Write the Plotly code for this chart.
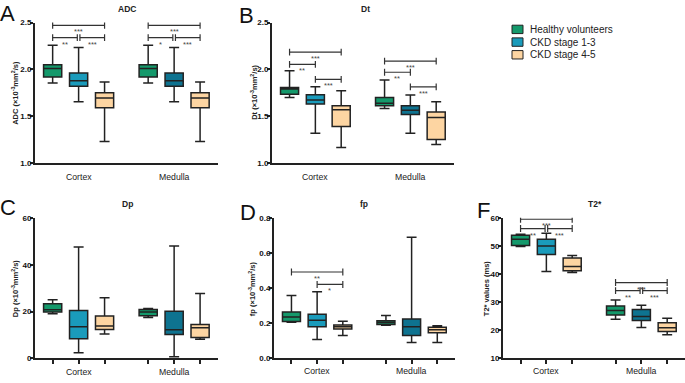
import plotly.graph_objects as go

# ---------------- data ----------------
GROUPS = ["Healthy volunteers", "CKD stage 1-3", "CKD stage 4-5"]
REGIONS = ["Cortex", "Medulla"]
# box order: Cortex HV, Cortex CKD1-3, Cortex CKD4-5, Medulla HV, Medulla CKD1-3, Medulla CKD4-5
ADC_LOW = [1.855, 1.655, 1.232, 1.855, 1.655, 1.232]
ADC_Q1 = [1.918, 1.820, 1.592, 1.918, 1.820, 1.592]
ADC_MED = [2.010, 1.880, 1.696, 2.010, 1.880, 1.696]
ADC_Q3 = [2.050, 1.963, 1.750, 2.050, 1.963, 1.750]
ADC_HIGH = [2.257, 2.233, 1.866, 2.257, 2.233, 1.866]

DT_LOW = [1.700, 1.319, 1.166, 1.582, 1.319, 1.200]
DT_Q1 = [1.734, 1.630, 1.391, 1.613, 1.520, 1.253]
DT_MED = [1.790, 1.675, 1.571, 1.640, 1.565, 1.488]
DT_Q3 = [1.807, 1.731, 1.613, 1.700, 1.613, 1.547]
DT_HIGH = [1.987, 1.814, 1.772, 1.887, 1.727, 1.655]

DP_LOW = [19.1, 2.4, 10.4, 17.5, 0.7, 8.2]
DP_Q1 = [19.8, 8.4, 12.4, 18.2, 10.2, 8.9]
DP_MED = [20.8, 13.5, 13.9, 19.8, 12.3, 13.1]
DP_Q3 = [23.3, 20.5, 18.1, 20.9, 20.1, 14.5]
DP_HIGH = [25.1, 47.6, 25.9, 21.3, 48.0, 27.7]

FP_LOW = [0.206, 0.108, 0.130, 0.189, 0.091, 0.091]
FP_Q1 = [0.210, 0.180, 0.167, 0.193, 0.130, 0.147]
FP_MED = [0.236, 0.217, 0.180, 0.204, 0.180, 0.163]
FP_Q3 = [0.264, 0.252, 0.191, 0.215, 0.225, 0.178]
FP_HIGH = [0.358, 0.379, 0.212, 0.245, 0.689, 0.186]

T2_LOW = [49.8, 40.9, 40.6, 23.9, 21.0, 18.4]
T2_Q1 = [50.2, 47.0, 41.2, 25.5, 23.5, 19.6]
T2_MED = [52.4, 50.0, 42.7, 27.1, 24.9, 20.9]
T2_Q3 = [53.8, 52.4, 45.7, 28.7, 27.4, 22.7]
T2_HIGH = [54.2, 54.5, 46.6, 30.8, 28.9, 24.3]

# significance brackets: (panel, from box, to box, y value, label)
BRACKETS = [
    ("A", 0, 2, 2.469, "***"), ("A", 0, 1, 2.34, "**"), ("A", 1, 2, 2.34, "***"),
    ("A", 3, 5, 2.469, "***"), ("A", 3, 4, 2.34, "*"), ("A", 4, 5, 2.34, "***"),
    ("B", 0, 2, 2.185, "***"), ("B", 0, 1, 2.053, "**"), ("B", 1, 2, 1.894, "***"),
    ("B", 3, 5, 2.088, "***"), ("B", 3, 4, 1.970, "**"), ("B", 4, 5, 1.814, "***"),
    ("D", 0, 2, 0.492, "**"), ("D", 1, 2, 0.421, "*"),
    ("F", 0, 2, 59.5, "***"), ("F", 0, 1, 56.2, "**"), ("F", 1, 2, 56.2, "***"),
    ("F", 3, 5, 37.0, "***"), ("F", 3, 4, 34.1, "**"), ("F", 4, 5, 34.1, "***"),
]

# ---------------- style / layout ----------------
W, H = 685, 383
POS = [0, 1, 2, 3.68, 4.68, 5.68]
XR = [-0.68, 6.37]
GREEN, BLUE, BLUE_DARK, PEACH = "#14996b", "#1a9bbb", "#0e7390", "#fdd5a2"
FILLS = [GREEN, BLUE, PEACH, GREEN, BLUE_DARK, PEACH]
LEGEND_FILLS = [GREEN, BLUE, PEACH]
INK = "#222222"
FONT = "Liberation Sans, Arial, sans-serif"


def px(x):
    return x / W


def py(y):
    return 1 - y / H


PANELS = [
    dict(key="A", title="ADC", ytitle="ADC (×10<sup>-3</sup>mm<sup>2</sup>/s)",
         stats=(ADC_LOW, ADC_Q1, ADC_MED, ADC_Q3, ADC_HIGH),
         box=(35, 218, 19, 163), yrange=[1.0, 2.5], tickvals=[1.0, 1.5, 2.0, 2.5], fmt=".1f",
         xticks=False, letter=(7.5, 10), title_xy=(127, 5.5), ytx=15, xlab_y=177),
    dict(key="B", title="Dt", ytitle="Dt (×10<sup>-3</sup>mm<sup>2</sup>/s)",
         stats=(DT_LOW, DT_Q1, DT_MED, DT_Q3, DT_HIGH),
         box=(272, 454, 19, 163), yrange=[1.0, 2.5], tickvals=[1.0, 1.5, 2.0, 2.5], fmt=".1f",
         xticks=False, letter=(246, 11.5), title_xy=(365, 5.5), ytx=254, xlab_y=177),
    dict(key="C", title="Dp", ytitle="Dp (×10<sup>-3</sup>mm<sup>2</sup>/s)",
         stats=(DP_LOW, DP_Q1, DP_MED, DP_Q3, DP_HIGH),
         box=(35, 218, 219, 363), yrange=[0, 60], tickvals=[0, 20, 40, 60], fmt="d",
         xticks=True, letter=(7.8, 208), title_xy=(127.5, 205), ytx=15, xlab_y=377),
    dict(key="D", title="fp", ytitle="fp (×10<sup>-3</sup>mm<sup>2</sup>/s)",
         stats=(FP_LOW, FP_Q1, FP_MED, FP_Q3, FP_HIGH),
         box=(274, 455, 219, 363), yrange=[0, 0.8], tickvals=[0, 0.2, 0.4, 0.6, 0.8], fmt=".1f",
         xticks=True, letter=(247.5, 213.5), title_xy=(364, 205), ytx=252, xlab_y=376),
    dict(key="F", title="T2*", ytitle="T2* values (ms)",
         stats=(T2_LOW, T2_Q1, T2_MED, T2_Q3, T2_HIGH),
         box=(503, 685, 219, 363), yrange=[10, 60], tickvals=[10, 20, 30, 40, 50, 60], fmt="d",
         xticks=True, letter=(483, 211.5), title_xy=(595, 205), ytx=486, xlab_y=376),
]

fig = go.Figure()
layout = dict(width=W, height=H, margin=dict(l=0, r=0, t=0, b=0),
              paper_bgcolor="white", plot_bgcolor="white", showlegend=False,
              font=dict(family=FONT, color=INK))
shapes, annotations = [], []
axis_of = {}

for k, p in enumerate(PANELS, start=1):
    sfx = "" if k == 1 else str(k)
    xa, ya = "x" + sfx, "y" + sfx
    axis_of[p["key"]] = (xa, ya, p)
    low, q1, med, q3, high = p["stats"]
    for i in range(6):
        fig.add_trace(go.Box(
            x=[POS[i]], q1=[q1[i]], median=[med[i]], q3=[q3[i]],
            lowerfence=[low[i]], upperfence=[high[i]],
            width=0.7, whiskerwidth=0.55, boxpoints=False,
            fillcolor=FILLS[i], line=dict(color=INK, width=1.5),
            name=GROUPS[i % 3], xaxis=xa, yaxis=ya, hoverinfo="skip"))
    x0, x1, y0, y1 = p["box"]
    layout["xaxis" + sfx] = dict(
        domain=[px(x0), px(x1)], anchor=ya, range=XR, showgrid=False, zeroline=False,
        showline=True, linecolor=INK, linewidth=2,
        tickvals=POS, showticklabels=False,
        ticks="outside" if p["xticks"] else "", ticklen=4, tickwidth=1.5, tickcolor=INK)
    layout["yaxis" + sfx] = dict(
        domain=[py(y1), py(y0)], anchor=xa, range=p["yrange"], showgrid=False, zeroline=False,
        showline=True, linecolor=INK, linewidth=2, tickvals=p["tickvals"], tickformat=p["fmt"],
        ticks="outside", ticklen=3, tickwidth=1.5, tickcolor=INK, ticklabelstandoff=-3,
        tickfont=dict(size=8, family=FONT, color="#111", weight="bold"))
    # panel letter
    annotations.append(dict(text=p["key"], x=px(p["letter"][0]), y=py(p["letter"][1]),
                            xref="paper", yref="paper", showarrow=False,
                            xanchor="center", yanchor="middle",
                            font=dict(size=22, family=FONT, color="#111")))
    # panel title
    annotations.append(dict(text=p["title"], x=px(p["title_xy"][0]), y=py(p["title_xy"][1]),
                            xref="paper", yref="paper", showarrow=False,
                            xanchor="center", yanchor="middle",
                            font=dict(size=8.5, family=FONT, color=INK, weight="bold")))
    # y axis title
    annotations.append(dict(text=p["ytitle"], x=px(p["ytx"]), y=py((y0 + y1) / 2),
                            xref="paper", yref="paper", showarrow=False, textangle=-90,
                            xanchor="center", yanchor="middle",
                            font=dict(size=7.5, family=FONT, color=INK, weight="bold")))
    # region labels
    for r, region in enumerate(REGIONS):
        annotations.append(dict(text=region, x=POS[3 * r + 1], y=py(p["xlab_y"]),
                                xref=xa, yref="paper", showarrow=False,
                                xanchor="center", yanchor="middle",
                                font=dict(size=8.7, family=FONT, color=INK)))

# significance brackets
for b in BRACKETS:
    key, i, j, yv, lab = b
    xa, ya, p = axis_of[key]
    span = p["yrange"][1] - p["yrange"][0]
    cap = 3.5 * span / (p["box"][3] - p["box"][2])
    shared = lambda idx: any(o is not b and o[0] == key and o[3] == yv and idx in (o[1], o[2])
                             for o in BRACKETS)
    xs = POS[i] + (0.05 if shared(i) else 0)
    xe = POS[j] - (0.05 if shared(j) else 0)
    ln = dict(color="#333", width=1.2)
    shapes.append(dict(type="line", xref=xa, yref=ya, x0=xs, x1=xe, y0=yv, y1=yv, line=ln))
    for xx in (xs, xe):
        shapes.append(dict(type="line", xref=xa, yref=ya, x0=xx, x1=xx,
                           y0=yv - cap, y1=yv + cap, line=ln))
    annotations.append(dict(text=lab, x=(xs + xe) / 2, y=yv, xref=xa, yref=ya,
                            showarrow=False, xanchor="center", yanchor="top",
                            font=dict(size=7.5, family=FONT, color="#444")))

# legend (drawn manually)
for g, name in enumerate(GROUPS):
    cy = 26 + 13 * g
    shapes.append(dict(type="rect", xref="paper", yref="paper",
                       x0=px(512), x1=px(523), y0=py(cy + 4.3), y1=py(cy - 4.3),
                       fillcolor=LEGEND_FILLS[g], line=dict(color=INK, width=1)))
    annotations.append(dict(text=name, x=px(528), y=py(cy), xref="paper", yref="paper",
                            showarrow=False, xanchor="left", yanchor="middle",
                            font=dict(size=10, family=FONT, color=INK)))

layout["shapes"] = shapes
layout["annotations"] = annotations
fig.update_layout(**layout)
fig.write_html("out.html", config={"displayModeBar": False},
               post_script="document.body.style.margin='0';document.body.style.overflow='hidden';")
